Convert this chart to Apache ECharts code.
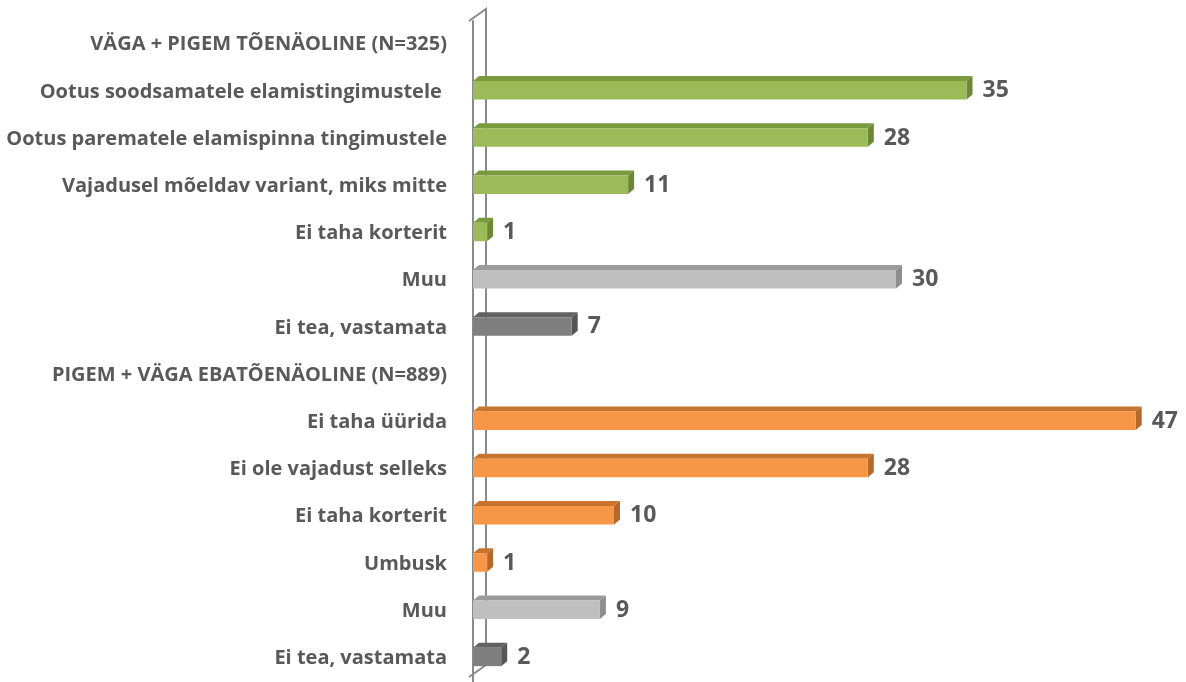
<!DOCTYPE html>
<html>
<head>
<meta charset="utf-8">
<script src="https://cdn.jsdelivr.net/npm/echarts@6/dist/echarts.min.js"></script>
<style>
	html, body { margin: 0; padding: 0; background: #fff; }
	#chart { width: 1186px; height: 682px; }
</style>
</head>
<body>
<div id="chart"></div>
<script>
var categories = [
	'VÄGA + PIGEM TÕENÄOLINE (N=325)',
	'Ootus soodsamatele elamistingimustele ',
	'Ootus parematele elamispinna tingimustele',
	'Vajadusel mõeldav variant, miks mitte',
	'Ei taha korterit',
	'Muu',
	'Ei tea, vastamata',
	'PIGEM + VÄGA EBATÕENÄOLINE (N=889)',
	'Ei taha üürida',
	'Ei ole vajadust selleks',
	'Ei taha korterit',
	'Umbusk',
	'Muu',
	'Ei tea, vastamata'
];
var values = [null, 35, 28, 11, 1, 30, 7, null, 47, 28, 10, 1, 9, 2];
var groups = ['none', 'green', 'green', 'green', 'green', 'light', 'dark',
	'none', 'orange', 'orange', 'orange', 'orange', 'light', 'dark'];

var palette = {
	green: {front: '#9BBB59', top: '#7A9A3E', side: '#6B8834'},
	orange: {front: '#F79646', top: '#C8742F', side: '#B5682A'},
	light: {front: '#BFBFBF', top: '#9B9B9B', side: '#8E8E8E'},
	dark: {front: '#7F7F7F', top: '#626262', side: '#565656'}
};

var GRID_LEFT = 473;
var GRID_TOP = 21;
var AXIS_X = 469;
var DEPTH_X = 6;
var DEPTH_Y = 5;

var barData = [];
for (var i = 0; i < values.length; i++) {
	if (values[i] !== null) {
		barData.push([values[i], i, groups[i]]);
	}
}

function renderBar(params, api) {
	var v = api.value(0);
	var idx = api.value(1);
	var c = palette[barData[params.dataIndex][2]];
	var start = api.coord([0, idx]);
	var end = api.coord([v, idx]);
	var h = 18.5;
	var x0 = start[0];
	var x1 = end[0];
	var y0 = start[1] - h / 2 - 1.5;
	var y1 = y0 + h;
	return {
		type: 'group',
		children: [
			{
				type: 'polygon',
				shape: {points: [[x0, y0], [x0 + DEPTH_X, y0 - DEPTH_Y], [x1 + DEPTH_X, y0 - DEPTH_Y], [x1, y0]]},
				style: {fill: c.top}
			},
			{
				type: 'polygon',
				shape: {points: [[x1, y0], [x1 + DEPTH_X, y0 - DEPTH_Y], [x1 + DEPTH_X, y1 - DEPTH_Y], [x1, y1]]},
				style: {fill: c.side}
			},
			{
				type: 'rect',
				shape: {x: x0, y: y0, width: x1 - x0, height: h},
				style: {fill: c.front}
			},
			{
				type: 'text',
				x: x1 + 16,
				y: start[1] - 1,
				style: {
					text: String(v),
					fill: '#595959',
					font: 'bold 23px "Open Sans"',
					verticalAlign: 'middle',
					align: 'left'
				}
			}
		]
	};
}

var chart = echarts.init(document.getElementById('chart'));

var options = {
	animation: false,
	grid: {left: GRID_LEFT, right: 8, top: GRID_TOP, bottom: 0},
	xAxis: {
		type: 'value',
		min: 0,
		max: 50,
		show: false
	},
	yAxis: {
		type: 'category',
		data: categories,
		inverse: true,
		offset: GRID_LEFT - AXIS_X,
		axisLine: {lineStyle: {color: '#8A8A8A', width: 2}},
		axisTick: {length: 5, lineStyle: {color: '#8A8A8A', width: 1.5}},
		axisLabel: {
			margin: 22,
			color: '#595959',
			fontFamily: 'Open Sans',
			fontWeight: 'bold',
			fontSize: 20
		}
	},
	graphic: [
		{
			type: 'polyline',
			z: 0,
			shape: {points: [[AXIS_X, GRID_TOP], [AXIS_X + 17, GRID_TOP - 12], [AXIS_X + 17, 665], [AXIS_X, 677]]},
			style: {stroke: '#8A8A8A', lineWidth: 2, fill: null}
		}
	],
	series: [
		{
			type: 'custom',
			z: 5,
			renderItem: renderBar,
			encode: {x: 0, y: 1},
			data: barData
		}
	]
};

chart.setOption(options);
</script>
</body>
</html>
